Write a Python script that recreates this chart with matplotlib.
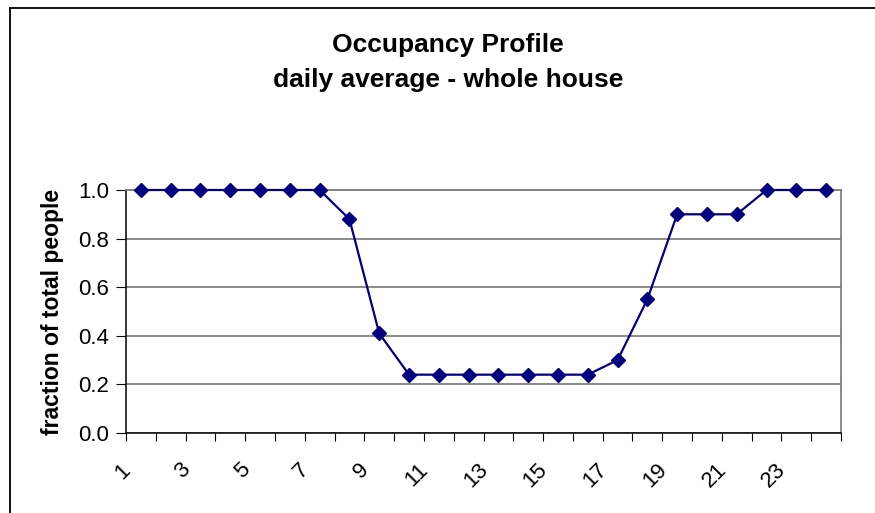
import matplotlib.pyplot as plt
from matplotlib.lines import Line2D
from matplotlib.transforms import ScaledTranslation

plt.rcParams['font.family'] = ['Liberation Sans', 'DejaVu Sans']

hours = list(range(1, 25))
occupancy = [1.0, 1.0, 1.0, 1.0, 1.0, 1.0, 1.0, 0.88, 0.41, 0.24, 0.24, 0.24,
             0.24, 0.24, 0.24, 0.24, 0.30, 0.55, 0.90, 0.90, 0.90, 1.0, 1.0, 1.0]
y_ticks = [0.0, 0.2, 0.4, 0.6, 0.8, 1.0]
x_labels = [str(h) for h in hours[::2]]

W, H = 875, 513
fig = plt.figure(figsize=(W / 100, H / 100), dpi=100)
ax = fig.add_axes([126 / W, 1 - 433 / H, (841 - 126) / W, (433 - 190) / H])

# outer chart frame (only left and top visible in the crop)
fig.add_artist(Line2D([10 / W, 10 / W], [0, 1 - 8 / H], transform=fig.transFigure,
                      color='black', lw=1.3))
fig.add_artist(Line2D([10 / W, 1], [1 - 8 / H, 1 - 8 / H], transform=fig.transFigure,
                      color='black', lw=1.3))

ax.plot(hours, occupancy, color='#000080', lw=1.6, marker='D', markersize=7.5,
        clip_on=False, zorder=3)

ax.set_yticks(y_ticks)
ax.set_yticklabels([f'{v:.1f}' for v in y_ticks], fontsize=16)
ax.yaxis.grid(True, color='#808080', lw=1.3)
ax.set_axisbelow(True)

ax.set_xticks([h + 0.5 for h in range(0, 25)])
ax.set_xticklabels([])
ax.tick_params(axis='x', which='major', direction='out', length=6, color='black')
ax.tick_params(axis='y', direction='out', length=7, color='black', pad=5)
ax.set_xticks(hours[::2], minor=True)
ax.set_xticklabels(x_labels, minor=True, rotation=45, ha='right', va='top',
                   rotation_mode='anchor', fontsize=16)
ax.tick_params(axis='x', which='minor', length=0, pad=19)
shift = ScaledTranslation(-21 / 100, 0, fig.dpi_scale_trans)
for lab in ax.get_xticklabels(minor=True):
    lab.set_transform(lab.get_transform() + shift)

ax.set_xlim(0.5, 24.5)
ax.set_ylim(0, 1.0)

for s in ['top', 'right']:
    ax.spines[s].set_color('#808080')
    ax.spines[s].set_linewidth(1.3)
for s in ['left', 'bottom']:
    ax.spines[s].set_color('black')
    ax.spines[s].set_linewidth(1.1)

ax.set_ylabel('fraction of total people', fontsize=16.5, fontweight='bold', labelpad=10)

fig.text(448 / W, 1 - 45 / H, 'Occupancy Profile', ha='center', va='center',
         fontsize=19, fontweight='bold')
fig.text(448 / W, 1 - 80 / H, 'daily average - whole house', ha='center', va='center',
         fontsize=19, fontweight='bold')

fig.savefig('out.png', dpi=100)
